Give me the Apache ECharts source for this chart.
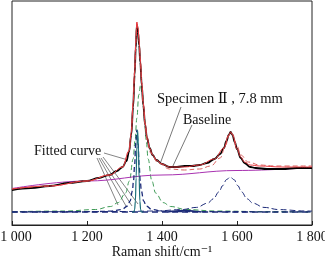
<!DOCTYPE html>
<html><head><meta charset="utf-8">
<script src="https://cdn.jsdelivr.net/npm/echarts@6/dist/echarts.min.js"></script>
<style>html,body{margin:0;padding:0;background:#fff}#c{width:325px;height:259px}</style>
</head><body><div id="c"></div>
<script>
// x: Raman shift (cm-1), y: intensity (arbitrary units)
const xTicks = [1000, 1200, 1400, 1600, 1800];
const measured = [[1000,35],[1050,37],[1100,39],[1150,42],[1200,44],[1230,47],[1260,50],[1280,54],[1295,58],[1305,64],[1312,73],[1318,90],[1323,118],[1327,150],[1330,177],[1333,200],[1336,193],[1339,180],[1342,163],[1346,140],[1350,120],[1355,100],[1360,87],[1367,77],[1375,70],[1385,65],[1400,61],[1420,58],[1440,58],[1460,59],[1480,59],[1500,60],[1520,62],[1540,66],[1555,71],[1565,77],[1572,84],[1578,90],[1583,93],[1588,90],[1594,83],[1600,76],[1610,67],[1620,62],[1635,58],[1650,57],[1680,56],[1720,56],[1760,57],[1800,57]];
const fitted = [[1000,36],[1100,39],[1200,44],[1260,50],[1295,58],[1312,74],[1318,92],[1323,122],[1327,153],[1330,182],[1333,203],[1336,197],[1339,184],[1342,166],[1346,142],[1350,122],[1355,102],[1360,88],[1367,77],[1375,70],[1385,65],[1400,61],[1420,58],[1460,58],[1500,60],[1540,66],[1565,77],[1578,90],[1583,93],[1588,90],[1600,76],[1610,68],[1620,63],[1635,60],[1660,59],[1720,58],[1800,58]];
const fittedDash = [[1000,36],[1100,39],[1200,44],[1260,50],[1295,58],[1312,74],[1318,92],[1323,122],[1327,153],[1330,182],[1333,203],[1336,197],[1339,184],[1342,166],[1346,142],[1350,121],[1355,100],[1360,85],[1370,72],[1390,62],[1420,56],[1460,55],[1500,56],[1530,59],[1555,67],[1570,80],[1578,89],[1583,93],[1588,91],[1600,79],[1610,70],[1630,63],[1660,60],[1700,59],[1800,59]];
const baseline = [[1000,36.5],[1200,44],[1400,50],[1600,54.5],[1800,57.5]];
const flatZero = [[1000,13],[1800,13]];
const bandD = [[1000,13.3],[1143,14],[1223,15.5],[1263,18.5],[1283,22.4],[1303,32],[1313,44],[1323,66],[1328,84],[1333,107],[1338,130],[1343,140],[1348,130],[1353,107],[1358,84],[1363,66],[1373,44],[1383,32],[1403,22.4],[1423,18.5],[1463,15.5],[1543,14],[1683,13.3],[1800,13.1]];
const bandNarrow = [[1000,13.1],[1213,13.3],[1263,13.8],[1293,15.5],[1308,19],[1315,24],[1321,34],[1324,44],[1327,60],[1330,82],[1333,95],[1336,82],[1339,60],[1342,44],[1345,34],[1351,24],[1358,19],[1373,15.5],[1403,13.8],[1453,13.3],[1800,13.1]];
const bandSharp = [[1320,13],[1325,13],[1327,15.4],[1329,24],[1331,47],[1333,79],[1335,95],[1337,79],[1339,47],[1341,24],[1343,15.4],[1345,13],[1350,13]];
const bandG = [[1000,13.1],[1182,13.3],[1302,13.5],[1382,14],[1452,15.4],[1492,17.6],[1522,21.9],[1537,26.2],[1552,33.2],[1562,39.4],[1572,45.4],[1582,48],[1592,45.4],[1602,39.4],[1612,33.2],[1627,26.2],[1642,21.9],[1672,17.6],[1712,15.4],[1782,14],[1800,13.9]];
const bandSmall = [[1415,13],[1430,13.8],[1460,14.4],[1490,13.8],[1505,13]];

const chart = echarts.init(document.getElementById('c'));
const serif = '"Liberation Serif","DejaVu Serif",serif';
function line(data, color, width, type, z){
  return {type:'line', data, showSymbol:false, smooth:0.4, smoothMonotone:'x', z:z||2,
    lineStyle:{color, width, type:type||'solid'}, silent:true, animation:false};
}
chart.setOption({
  animation:false,
  grid:{left:12, right:13, top:1, bottom:34, show:true, borderColor:'#222', borderWidth:1,
    containLabel:false, outerBoundsMode:'none'},
  xAxis:{type:'value', min:1000, max:1800, interval:200,
    axisLine:{show:true, lineStyle:{color:'#222', width:1}},
    axisTick:{show:true, inside:true, length:4, lineStyle:{color:'#222'}},
    splitLine:{show:false},
    axisLabel:{color:'#111', fontFamily:serif, fontSize:14, margin:5,
      rich:{first:{fontFamily:serif, fontSize:14, color:'#111', padding:[0,0,0,8]}},
      formatter:v=> {
        if (!xTicks.includes(v)) return '';
        const s = String(v).replace(/^(\d)(\d{3})$/,'$1 $2');
        return v === xTicks[0] ? '{first|' + s + '}' : s;
      }},
    name:'Raman shift/cm⁻¹', nameLocation:'middle', nameGap:20, nameMoveOverlap:false,
    nameTextStyle:{color:'#111', fontFamily:serif, fontSize:14}},
  yAxis:{type:'value', min:0, max:224, show:false},
  series:[
    line(flatZero,'#1c2a78',1.6,[6,4],1),
    line(bandSmall,'#1c2a78',1.6,'solid',1),
    line(bandD,'#3d9a55',1,[5,3],2),
    line(bandG,'#1c2a78',1,[6,3],2),
    line(bandNarrow,'#1c2a78',1.3,[5,3],3),
    line(bandSharp,'#1d6f7a',1.2,'solid',3),
    line(baseline,'#a832b0',1,'solid',2),
    line(measured,'#000',1.8,'solid',4),
    line(fittedDash,'#d9605e',1,[5,3],5),
    line(fitted,'#e83a40',1,'solid',5)
  ],
  graphic:[
    {type:'text', left:157, top:92, style:{text:'Specimen Ⅱ , 7.8 mm', font:'14.5px '+serif, fill:'#111'}},
    {type:'text', left:183, top:113, style:{text:'Baseline', font:'14px '+serif, fill:'#111'}},
    {type:'text', left:34, top:144, style:{text:'Fitted curve', font:'14px '+serif, fill:'#111'}},
    {type:'line', shape:{x1:181,y1:107,x2:160,y2:164}, style:{stroke:'#555', lineWidth:0.8}},
    {type:'line', shape:{x1:192,y1:125,x2:172,y2:168}, style:{stroke:'#555', lineWidth:0.8}},
    {type:'line', shape:{x1:104,y1:153,x2:128,y2:160}, style:{stroke:'#666', lineWidth:0.8}},
    {type:'line', shape:{x1:97,y1:158,x2:118,y2:205}, style:{stroke:'#666', lineWidth:0.8}},
    {type:'line', shape:{x1:99,y1:158,x2:126,y2:206}, style:{stroke:'#666', lineWidth:0.8}},
    {type:'line', shape:{x1:101,y1:158,x2:132,y2:206}, style:{stroke:'#666', lineWidth:0.8}},
    {type:'line', shape:{x1:103,y1:157,x2:138,y2:204}, style:{stroke:'#666', lineWidth:0.8}}
  ]
});
</script></body></html>
